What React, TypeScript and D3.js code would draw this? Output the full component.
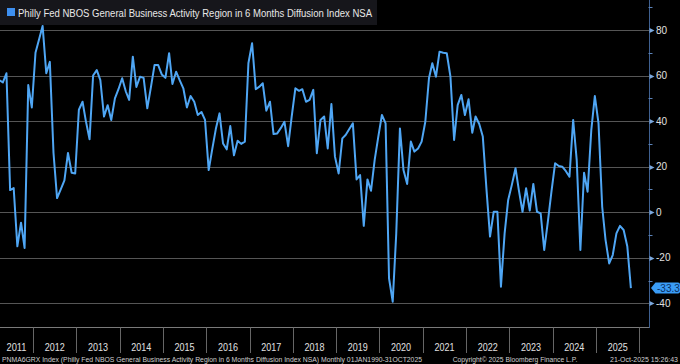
import React, { useRef, useEffect } from 'react';
import * as d3 from 'd3';

// monthly readings, Mar 2011 .. Oct 2025
const v2011 = [58, 57, 61, 9.7, 10.6, -15, -4.6, -15.7, 55.8, 46];
const v2012 = [70, 76, 81.8, 61, 66, 26, 6.2, 10, 14, 26, 17.3, 17];
const v2013 = [45, 48.5, 40, 32, 60, 62.4, 58, 42, 47, 40.5, 50, 54];
const v2014 = [58.8, 53, 49.3, 68.3, 55, 59.5, 59, 45.6, 55, 64.6, 64.6, 60.5];
const v2015 = [59, 69.8, 56.3, 61.7, 58, 54.4, 46, 51, 48.5, 42.7, 44, 40.5];
const v2016 = [18.5, 28, 36.5, 43.4, 30.2, 27.6, 37.8, 25, 31.4, 30, 31, 65.4];
const v2017 = [74.2, 54, 55, 56.6, 44.6, 48.5, 34.3, 34.6, 37, 39.7, 29, 42];
const v2018 = [54.4, 53.3, 54, 48.5, 49.3, 53.7, 25.9, 40.5, 42, 28, 47.5, 24.4];
const v2019 = [17, 32.4, 33.9, 36.5, 39, 14.4, 16.3, -6, 14.4, 9.4, 23, 33];
const v2020 = [42.7, 39, -29, -39.3, -9.3, 36.8, 18.5, 12.4, 31, 26.6, 28, 31];
const v2021 = [39.7, 58.8, 65.4, 59.5, 70.5, 70, 69.8, 59.5, 31.7, 47, 51.5, 42.7];
const v2022 = [49.6, 34.9, 42, 38.7, 33.2, 10, -10.7, 0.2, 0.2, -32.7, -9.3, 5.4];
const v2023 = [12, 19.3, 9.7, 0.2, 10.5, 0.7, 12.4, 0.2, -0.5, -16.6, -4, 9];
const v2024 = [21.5, 20.3, 20, 18, 15.6, 40.5, 23, -16.6, 17.3, 9, 36, 51];
const v2025 = [39, 2.4, -12, -22.5, -18.8, -9.3, -6, -7.8, -15.1, -33.3];

const values: number[] = [
    ...v2011, ...v2012, ...v2013, ...v2014, ...v2015, ...v2016, ...v2017, ...v2018,
    ...v2019, ...v2020, ...v2021, ...v2022, ...v2023, ...v2024, ...v2025,
];

const years = d3.range(2011, 2026);
const yTicks = [-40, -20, 0, 20, 40, 60, 80];
const yMinor = [-30, -10, 10, 30, 50, 70, 90];
const lastValue = -33.3;

const title = 'Philly Fed NBOS General Business Activity Region in 6 Months Diffusion Index NSA';
const footLeft = 'PNMA6GRX Index (Philly Fed NBOS General Business Activity Region in 6 Months Diffusion Index NSA) Monthly 01JAN1990-31OCT2025';
const footMid = 'Copyright\u00a9 2025 Bloomberg Finance L.P.';
const footRight = '21-Oct-2025 15:26:43';

const W = 680;
const H = 364;
const FONT = '"Liberation Sans", Arial, sans-serif';

const App = () => {
    const ref = useRef<SVGSVGElement>(null);

    useEffect(() => {
        const svg = d3.select(ref.current);
        svg.selectAll('*').remove();

        const right = 649.5;
        const bottom = 327.5;

        const series: [Date, number][] = values.map((v, i) => [new Date(2011, 2 + i, 22), v]);

        const x = d3.scaleTime()
            .domain([new Date(2012, 0, 1), new Date(2026, 0, 1)])
            .range([33, 639.3]);
        const y = d3.scaleLinear().domain([-40, 80]).range([303.3, 30]);

        svg.append('rect').attr('width', W).attr('height', H).attr('fill', '#000');

        // horizontal grid
        svg.append('g').selectAll('line')
            .data(yTicks)
            .enter().append('line')
            .attr('x1', 0)
            .attr('x2', right)
            .attr('y1', d => Math.round(y(d)) + 0.5)
            .attr('y2', d => Math.round(y(d)) + 0.5)
            .attr('stroke', '#555')
            .attr('stroke-width', 1);

        svg.append('defs').append('clipPath').attr('id', 'plot')
            .append('rect').attr('x', 0).attr('y', 0).attr('width', right).attr('height', bottom);

        const line = d3.line<[Date, number]>()
            .x(d => x(d[0]))
            .y(d => y(d[1]));

        svg.append('path')
            .datum(series)
            .attr('clip-path', 'url(#plot)')
            .attr('fill', 'none')
            .attr('stroke', '#4fa6f4')
            .attr('stroke-width', 2)
            .attr('stroke-linejoin', 'round')
            .attr('d', line);

        // bottom axis + year separators
        svg.append('line')
            .attr('x1', 0).attr('x2', right)
            .attr('y1', bottom).attr('y2', bottom)
            .attr('stroke', '#7a7a7a');

        const bounds = d3.range(2012, 2027).map(yr => x(new Date(yr, 0, 1)));
        svg.append('g').selectAll('line')
            .data(bounds)
            .enter().append('line')
            .attr('x1', d => Math.round(d) + 0.5)
            .attr('x2', d => Math.round(d) + 0.5)
            .attr('y1', bottom)
            .attr('y2', 353)
            .attr('stroke', '#666');

        svg.append('g').selectAll('text')
            .data(years)
            .enter().append('text')
            .attr('x', yr => (Math.max(0, x(new Date(yr, 0, 1))) + x(new Date(yr + 1, 0, 1))) / 2)
            .attr('y', 350.5)
            .attr('text-anchor', 'middle')
            .attr('font-family', FONT)
            .attr('font-size', 11)
            .attr('textLength', 20)
            .attr('lengthAdjust', 'spacingAndGlyphs')
            .attr('fill', '#e0e0e0')
            .text(yr => String(yr));

        // right axis
        svg.append('line')
            .attr('x1', right).attr('x2', right)
            .attr('y1', 0).attr('y2', bottom + 0.5)
            .attr('stroke', '#3f6090');

        svg.append('g').selectAll('line')
            .data(yMinor)
            .enter().append('line')
            .attr('x1', right - 1)
            .attr('x2', right + 3)
            .attr('y1', d => Math.round(y(d)) + 0.5)
            .attr('y2', d => Math.round(y(d)) + 0.5)
            .attr('stroke', '#5b82b8');

        svg.append('g').selectAll('path')
            .data(yTicks)
            .enter().append('path')
            .attr('d', d => {
                const yy = Math.round(y(d)) + 0.5;
                return `M${right},${yy - 2.5}L${right + 5},${yy}L${right},${yy + 2.5}Z`;
            })
            .attr('fill', '#7ba8de');

        svg.append('g').selectAll('text')
            .data(yTicks)
            .enter().append('text')
            .attr('x', 656)
            .attr('y', d => y(d) + 3.5)
            .attr('font-family', FONT)
            .attr('font-size', 10)
            .attr('fill', '#e0e0e0')
            .text(d => String(d));

        // last value tag
        const ty = y(lastValue);
        svg.append('path')
            .attr('d', `M651,${ty}L655.5,${ty - 5.5}L678,${ty - 5.5}Q680,${ty - 5.5} 680,${ty - 3.5}L680,${ty + 3.5}Q680,${ty + 5.5} 678,${ty + 5.5}L655.5,${ty + 5.5}Z`)
            .attr('fill', '#3a9cf6');
        svg.append('text')
            .attr('x', 657)
            .attr('y', ty + 3.5)
            .attr('font-family', FONT)
            .attr('font-size', 10)
            .attr('fill', '#0b2f5e')
            .text(lastValue.toFixed(1));

        // legend
        svg.append('rect')
            .attr('x', 0).attr('y', 0)
            .attr('width', 377).attr('height', 25)
            .attr('fill', '#16161b');
        svg.append('rect')
            .attr('x', 7).attr('y', 8)
            .attr('width', 8).attr('height', 8)
            .attr('fill', '#3d8ff0');
        svg.append('text')
            .attr('x', 18)
            .attr('y', 16.5)
            .attr('font-family', FONT)
            .attr('font-size', 10)
            .attr('textLength', 354)
            .attr('lengthAdjust', 'spacingAndGlyphs')
            .attr('fill', '#e8e8e8')
            .text(title);

        // footer
        const foot = [
            { x: 2, len: 420, text: footLeft },
            { x: 452.7, len: 124.6, text: footMid },
            { x: 610, len: 68, text: footRight },
        ];
        svg.append('g').selectAll('text')
            .data(foot)
            .enter().append('text')
            .attr('x', d => d.x)
            .attr('y', 361.5)
            .attr('font-family', FONT)
            .attr('font-size', 7)
            .attr('textLength', d => d.len)
            .attr('lengthAdjust', 'spacingAndGlyphs')
            .attr('fill', '#cfcfcf')
            .text(d => d.text);
    }, []);

    return (
        <svg
            ref={ref}
            width={W}
            height={H}
            style={{ position: 'absolute', left: 0, top: 0, display: 'block' }}
        />
    );
};

export default App;
